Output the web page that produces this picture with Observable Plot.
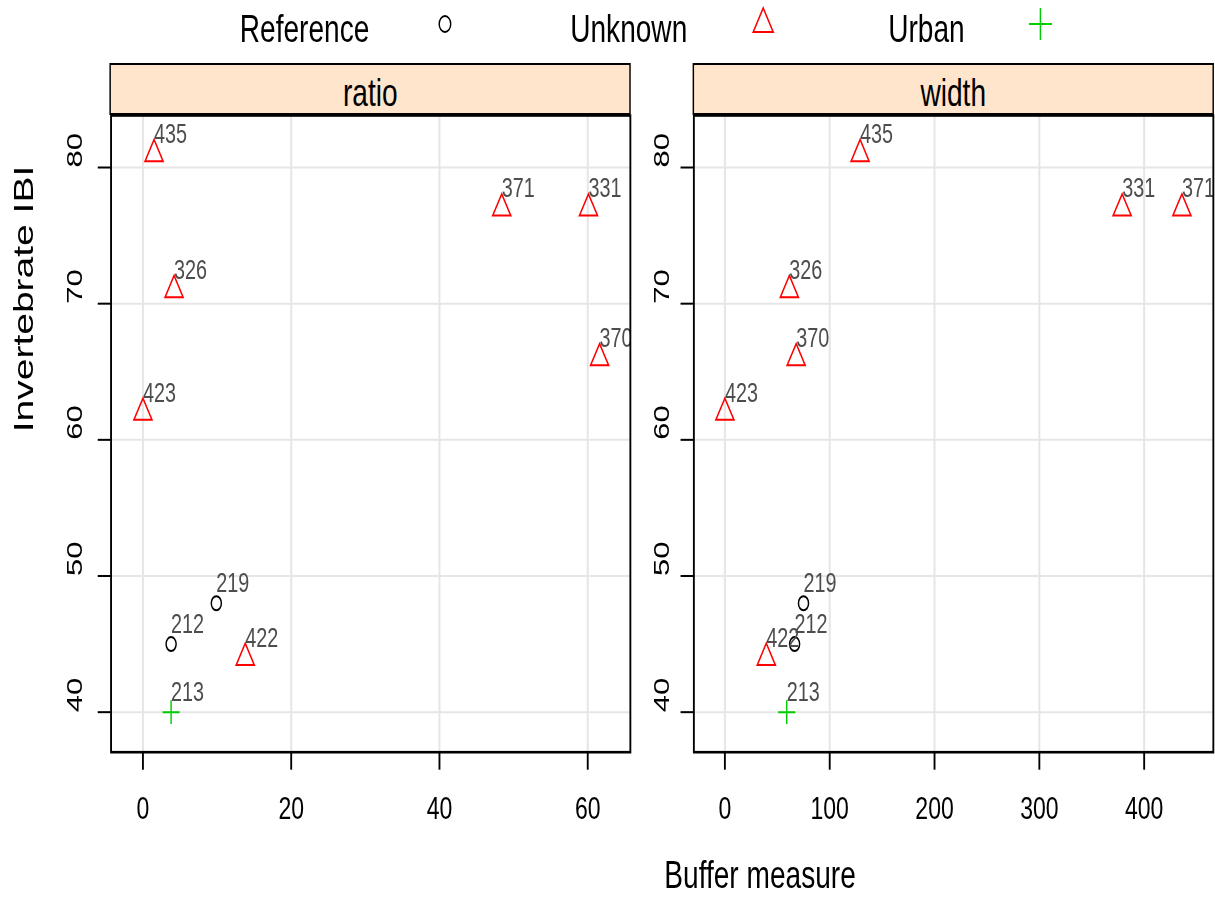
<!DOCTYPE html>
<html><head><meta charset="utf-8">
<script src="https://cdn.jsdelivr.net/npm/d3@7"></script>
<script src="https://cdn.jsdelivr.net/npm/@observablehq/plot@0.6"></script>
<style>
html,body{margin:0;padding:0;background:#fff;overflow:hidden;width:1215px;height:899px;}
#page{position:absolute;left:0;top:0;width:1688px;height:899px;transform:scaleX(0.72);transform-origin:0 0;font-family:"Liberation Sans",Arial,sans-serif;color:#000;}
.strip{position:absolute;top:63px;height:52px;box-sizing:border-box;border-top:2px solid #000;border-bottom:2px solid #000;border-left:2.8px solid #000;border-right:2.8px solid #000;background:#ffe5cc;text-align:center;font-size:39px;line-height:55px;white-space:nowrap;}
#legend{position:absolute;left:333px;top:0;display:flex;align-items:flex-start;}
#legend span{font-size:39px;line-height:50px;height:50px;padding-top:3.5px;white-space:nowrap;}
#legend svg{margin-left:85px;margin-right:154px;}
#legend svg:last-child{margin-right:0;}
#xtitle{position:absolute;left:655.6px;width:800px;top:850px;text-align:center;font-size:39px;line-height:50px;}
.panel{position:absolute;top:100px;}
</style></head><body><div id="page"></div>
<script>
// ---- data ----
const sites = ["435","371","331","326","370","423","219","212","422","213"];
const groups = ["Unknown","Unknown","Unknown","Unknown","Unknown","Unknown","Reference","Reference","Unknown","Urban"];
const ibi = [81, 77, 77, 71, 66, 62, 48, 45, 44, 40];
const ratioValues = [1.5, 48.4, 60.1, 4.2, 61.6, 0, 9.9, 3.8, 13.8, 3.8];
const widthValues = [129, 436, 379, 61.5, 68, 0, 75, 66.5, 39.5, 59];
const legendGroups = ["Reference", "Unknown", "Urban"];
const panelNames = ["ratio", "width"];
const ratioTicks = [0, 20, 40, 60];
const widthTicks = [0, 100, 200, 300, 400];
const ibiTicks = [40, 50, 60, 70, 80];
const yTitle = "Invertebrate IBI";
const xTitle = "Buffer measure";

// ---- styles ----
const groupStyle = {
  Reference: {symbol: "circle", color: "#000000", r: 7, d3sym: d3.symbolCircle, lr: 8},
  Unknown: {symbol: "triangle", color: "#ff0000", r: 9.3, d3sym: d3.symbolTriangle, lr: 10.3},
  Urban: {symbol: "plus", color: "#00cd00", r: 7.7, d3sym: d3.symbolPlus, lr: 10.3}
};
const FONT = '"Liberation Sans", Arial, sans-serif';
const page = document.getElementById("page");

// legend
const legend = document.createElement("div");
legend.id = "legend";
for (const g of legendGroups) {
  const s = document.createElement("span");
  s.textContent = g;
  legend.appendChild(s);
  const st = groupStyle[g];
  const svg = d3.create("svg").attr("width", 40).attr("height", 50);
  svg.append("path")
    .attr("transform", "translate(20,24)")
    .attr("d", d3.symbol(st.d3sym, Math.PI * st.lr * st.lr)())
    .attr("fill", "none").attr("stroke", st.color).attr("stroke-width", 2);
  legend.appendChild(svg.node());
}
page.appendChild(legend);

const Y_DOMAIN = [37.06, 83.82];
const H = 740, MT = 15, MB = 740 - 15 - 636.7;

function makePanel({values, domain, ticks, widthPx, marginLeft, marginRight, tickPad, withTitle}) {
  const data = sites.map((s, i) => ({site: s, group: groups[i], x: values[i], y: ibi[i]}));
  const marks = [
    Plot.gridX(ticks, {stroke: "#e6e6e6", strokeOpacity: 1, strokeWidth: 2.8}),
    Plot.gridY(ibiTicks, {stroke: "#e6e6e6", strokeOpacity: 1, strokeWidth: 2}),
    ...legendGroups.map(g => Plot.dot(data.filter(d => d.group === g), {
      x: "x", y: "y", symbol: groupStyle[g].symbol, stroke: groupStyle[g].color,
      r: groupStyle[g].r, strokeWidth: 2, fill: "none"
    })),
    Plot.text(data, {x: "x", y: "y", text: "site", textAnchor: "start", lineAnchor: "bottom",
      dy: -11, fill: "#4d4d4d", fontSize: 27.5, clip: true}),
    Plot.frame({stroke: "#000", strokeWidth: 2.6}),
    Plot.axisX({ticks, tickSize: 18, tickPadding: 26, fontSize: 32, strokeWidth: 2.6, label: null}),
    Plot.axisY({ticks: ibiTicks, tickSize: 18, tickPadding: tickPad, tickRotate: -90,
      textAnchor: "start", fontSize: 31, strokeWidth: 2, label: null})
  ];
  if (withTitle) {
    marks.push(Plot.text([yTitle], {frameAnchor: "left", text: d => d, rotate: -90,
      textAnchor: "middle", lineAnchor: "bottom", dx: -107.95, dy: -134.85, fontSize: 39, fill: "#000"}));
  }
  return Plot.plot({
    width: widthPx, height: H, marginLeft, marginRight, marginTop: MT, marginBottom: MB,
    x: {domain}, y: {domain: Y_DOMAIN},
    style: {fontFamily: FONT, color: "#000", background: "transparent", overflow: "visible"},
    marks
  });
}

const cfg = [
  {name: panelNames[0], values: ratioValues, domain: [-4.3, 65.75], ticks: ratioTicks,
   left: 0, widthPx: 900, marginLeft: 153.75, marginRight: 25, tickPad: 22.2, withTitle: true},
  {name: panelNames[1], values: widthValues, domain: [-29.6, 466], ticks: widthTicks,
   left: 900, widthPx: 788, marginLeft: 63.2, marginRight: 3.3, tickPad: 16.3, withTitle: false}
];
for (const c of cfg) {
  const wrap = document.createElement("div");
  wrap.className = "panel";
  wrap.style.left = c.left + "px";
  wrap.appendChild(makePanel(c));
  page.appendChild(wrap);
  const strip = document.createElement("div");
  strip.className = "strip";
  const x0 = c.left + c.marginLeft, x1 = c.left + c.widthPx - c.marginRight;
  strip.style.left = (x0 - 1.4) + "px";
  strip.style.width = (x1 - x0 + 2.8) + "px";
  strip.textContent = c.name;
  page.appendChild(strip);
}

const xt = document.createElement("div");
xt.id = "xtitle";
xt.textContent = xTitle;
page.appendChild(xt);
</script></body></html>
